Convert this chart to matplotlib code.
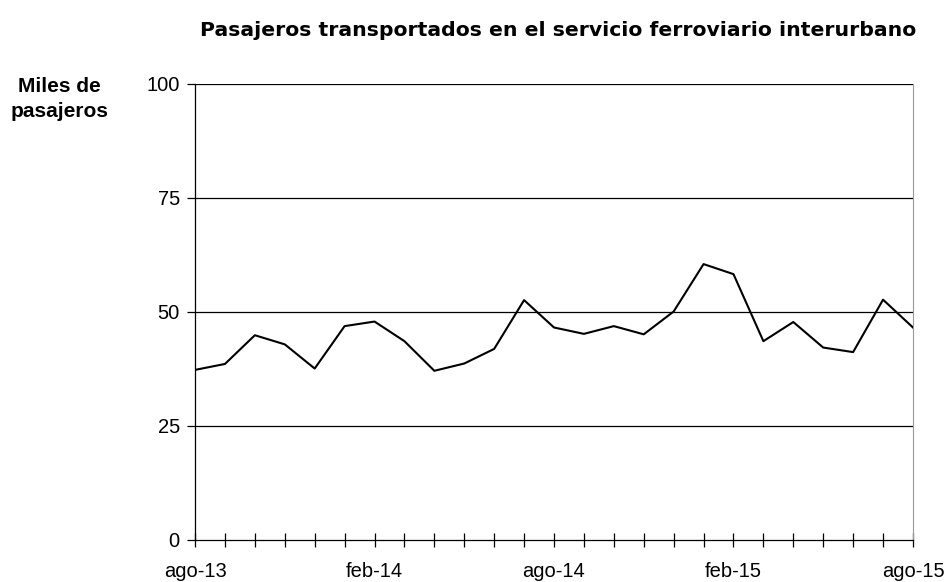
import numpy as np
import matplotlib.pyplot as plt

plt.rcParams['font.family'] = ['Liberation Sans', 'DejaVu Sans']

months = ['ago-13', 'sep-13', 'oct-13', 'nov-13', 'dic-13', 'ene-14', 'feb-14',
          'mar-14', 'abr-14', 'may-14', 'jun-14', 'jul-14', 'ago-14', 'sep-14',
          'oct-14', 'nov-14', 'dic-14', 'ene-15', 'feb-15', 'mar-15', 'abr-15',
          'may-15', 'jun-15', 'jul-15', 'ago-15']
pasajeros = [37.3, 38.6, 44.9, 42.9, 37.6, 46.9, 47.9, 43.6, 37.1, 38.7, 41.9,
             52.6, 46.6, 45.2, 46.9, 45.1, 50.1, 60.5, 58.3, 43.6, 47.8, 42.2,
             41.2, 52.7, 46.6]
yticks = [0, 25, 50, 75, 100]

x = np.arange(len(months))

fig = plt.figure(figsize=(9.5, 5.82), dpi=100)
ax = fig.add_axes([0.2053, 0.0722, 0.7557, 0.7835])

for v in yticks[1:]:
    ax.axhline(v, color='black', lw=0.9, zorder=1)
ax.plot(x, pasajeros, color='black', lw=1.5, zorder=3)

ax.set_xlim(0, len(months) - 1)
ax.set_ylim(0, 100)
ax.set_yticks(yticks)
ax.set_xticks(x, minor=True)
ax.set_xticks(x[::6])
ax.set_xticklabels(months[::6])
ax.tick_params(axis='x', which='both', direction='inout', length=10, width=0.9, pad=11)
ax.tick_params(axis='y', direction='out', length=6, width=0.9, pad=5)
ax.tick_params(labelsize=14.5)

ax.spines['top'].set_visible(False)
ax.spines['right'].set_color('#999999')
ax.spines['left'].set_linewidth(0.9)
ax.spines['bottom'].set_linewidth(0.9)

fig.text(0.588, 0.948, 'Pasajeros transportados en el servicio ferroviario interurbano',
         ha='center', va='center', fontsize=14.7, fontweight='bold', family='DejaVu Sans')
fig.text(0.063, 0.830, 'Miles de\npasajeros', ha='center', va='center',
         fontsize=15, fontweight='bold', linespacing=1.45)

fig.savefig('out.png', dpi=100)
